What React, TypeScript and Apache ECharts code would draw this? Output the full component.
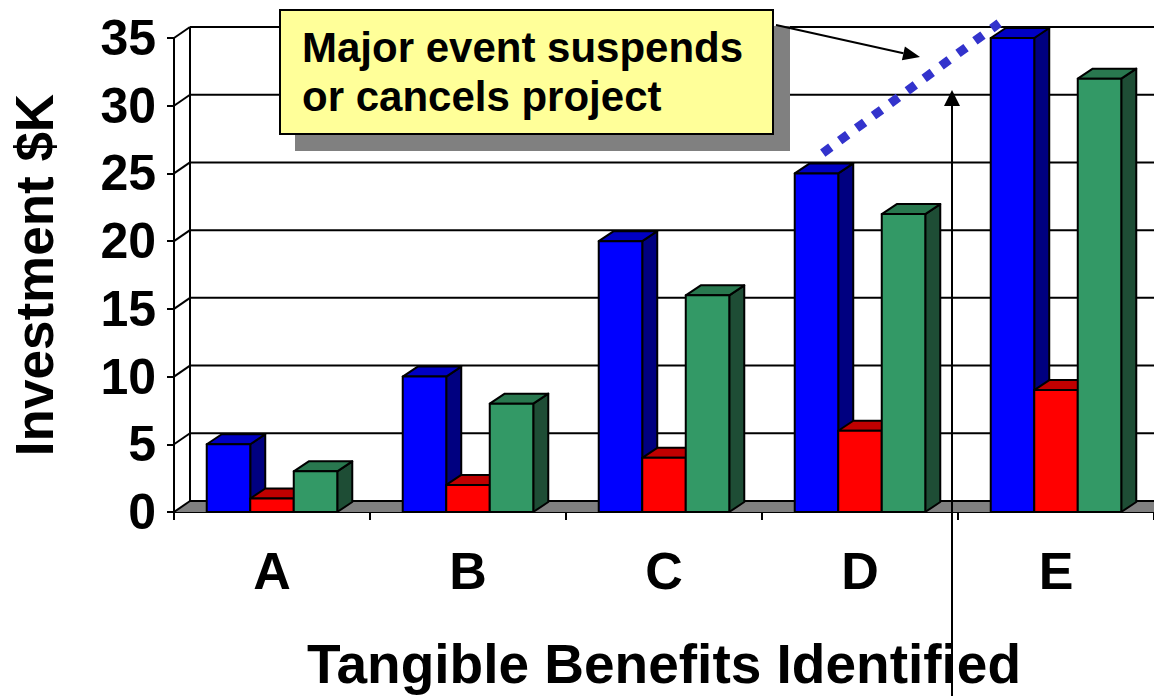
import React, { useEffect, useRef } from "react";
import * as echarts from "echarts";

// Chart data
const categories = ["A", "B", "C", "D", "E"];
const blueValues = [5, 10, 20, 25, 35];
const redValues = [1, 2, 4, 6, 9];
const greenValues = [3, 8, 16, 22, 32];
const yTicks = [0, 5, 10, 15, 20, 25, 30, 35];
// Dotted trend annotation, in [category position, value] units
const trendLine = [
  [3.31, 26.5],
  [4.21, 36.1],
];

const FONT = "'Liberation Sans', Arial, Helvetica, sans-serif";

// Oblique 3D offsets (screen pixels per full depth)
const WALL_DX = 16;
const WALL_DY = 11;
const BAR_DX = 15;
const BAR_DY = 10;

const palettes = [
  { front: "#0000FF", top: "#0000C4", side: "#000080" },
  { front: "#FF0000", top: "#C00000", side: "#800000" },
  { front: "#339966", top: "#29784F", side: "#1E4D35" },
];

function barRenderer(slot: number) {
  const colors = palettes[slot];
  return (params: any, api: any) => {
    const cat = api.value(0);
    const val = api.value(1);
    const base = api.coord([cat, 0]);
    const top = api.coord([cat, val]);
    const band = api.size([1, 0])[0];
    const w = band * 0.222;
    const x0 = base[0] - 1.5 * w + slot * w;
    const x1 = x0 + w;
    const yb = base[1];
    const yt = top[1];
    const edge = { stroke: "#000", lineWidth: 2, lineJoin: "round" };
    return {
      type: "group",
      children: [
        {
          type: "polygon",
          shape: {
            points: [
              [x1, yt],
              [x1 + BAR_DX, yt - BAR_DY],
              [x1 + BAR_DX, yb - BAR_DY],
              [x1, yb],
            ],
          },
          style: { fill: colors.side, ...edge },
        },
        {
          type: "polygon",
          shape: {
            points: [
              [x0, yt],
              [x0 + BAR_DX, yt - BAR_DY],
              [x1 + BAR_DX, yt - BAR_DY],
              [x1, yt],
            ],
          },
          style: { fill: colors.top, ...edge },
        },
        {
          type: "rect",
          shape: { x: x0, y: yt, width: w, height: yb - yt },
          style: { fill: colors.front, ...edge },
        },
      ],
    };
  };
}

// Back wall gridlines, floor and the depth connectors from the front axis
function wallRenderer(params: any, api: any) {
  const v = api.value(1);
  const cs = params.coordSys;
  const left = cs.x;
  const right = cs.x + cs.width;
  const y = api.coord([0, v])[1];
  const line = { stroke: "#000", lineWidth: 2 };
  const children: any[] = [];
  if (v === yTicks[0]) {
    const yMax = api.coord([0, yTicks[yTicks.length - 1]])[1];
    children.push({
      type: "polygon",
      shape: {
        points: [
          [left, y],
          [right + WALL_DX, y],
          [right + WALL_DX, y - WALL_DY],
          [left + WALL_DX, y - WALL_DY],
        ],
      },
      style: { fill: "#808080" },
    });
    children.push({
      type: "line",
      shape: { x1: left + WALL_DX, y1: y - WALL_DY, x2: left + WALL_DX, y2: yMax - WALL_DY },
      style: line,
    });
  }
  children.push({
    type: "line",
    shape: { x1: left, y1: y, x2: left + WALL_DX, y2: y - WALL_DY },
    style: line,
  });
  children.push({
    type: "line",
    shape: { x1: left + WALL_DX, y1: y - WALL_DY, x2: right + WALL_DX, y2: y - WALL_DY },
    style: line,
  });
  return { type: "group", children };
}

function arrow(x1: number, y1: number, x2: number, y2: number, len: number, half: number) {
  const dx = x2 - x1;
  const dy = y2 - y1;
  const d = Math.hypot(dx, dy);
  const ux = dx / d;
  const uy = dy / d;
  const bx = x2 - ux * len;
  const by = y2 - uy * len;
  const nx = -uy;
  const ny = ux;
  return [
    {
      type: "line",
      z: 100,
      shape: { x1, y1, x2: bx, y2: by },
      style: { stroke: "#000", lineWidth: 2 },
    },
    {
      type: "polygon",
      z: 100,
      shape: {
        points: [
          [x2, y2],
          [bx + nx * half, by + ny * half],
          [bx - nx * half, by - ny * half],
        ],
      },
      style: { fill: "#000" },
    },
  ];
}

export default function App() {
  const ref = useRef<HTMLDivElement>(null);

  useEffect(() => {
    if (!ref.current) return;
    const chart = echarts.init(ref.current, undefined, { renderer: "svg" });
    const bold = { fontFamily: FONT, fontWeight: "bold" as const, color: "#000" };

    chart.setOption({
      animation: false,
      backgroundColor: "#fff",
      grid: { left: 174, top: 38, width: 980, height: 479, containLabel: false },
      xAxis: [
        {
          type: "category",
          data: categories,
          axisLine: { show: true, lineStyle: { color: "#000", width: 2 } },
          axisTick: { show: true, length: 8, lineStyle: { color: "#000", width: 2 } },
          axisLabel: { ...bold, fontSize: 52, lineHeight: 52, margin: 33, interval: 0 },
          splitLine: { show: false },
          name: "Tangible Benefits Identified",
          nameLocation: "middle",
          nameGap: 124,
          nameTextStyle: { ...bold, fontSize: 55, lineHeight: 55 },
        },
        { type: "value", min: 0, max: 5, show: false },
      ],
      yAxis: {
        type: "value",
        min: 0,
        max: 35,
        interval: 5,
        axisLine: { show: true, lineStyle: { color: "#000", width: 2 } },
        axisTick: { show: true, length: 7, lineStyle: { color: "#000", width: 2 } },
        axisLabel: { ...bold, fontSize: 50, margin: 18 },
        splitLine: { show: false },
        name: "Investment $K",
        nameLocation: "middle",
        nameRotate: 90,
        nameGap: 113,
        nameTextStyle: { ...bold, fontSize: 53, lineHeight: 53 },
      },
      series: [
        {
          type: "custom",
          name: "wall",
          clip: false,
          silent: true,
          z: 1,
          data: yTicks.map((v) => [0, v]),
          renderItem: wallRenderer,
        },
        {
          type: "custom",
          name: "Series 1",
          clip: false,
          z: 3,
          data: blueValues.map((v, i) => [i, v]),
          renderItem: barRenderer(0),
        },
        {
          type: "custom",
          name: "Series 2",
          clip: false,
          z: 3,
          data: redValues.map((v, i) => [i, v]),
          renderItem: barRenderer(1),
        },
        {
          type: "custom",
          name: "Series 3",
          clip: false,
          z: 3,
          data: greenValues.map((v, i) => [i, v]),
          renderItem: barRenderer(2),
        },
        {
          type: "line",
          name: "trend",
          xAxisIndex: 1,
          clip: false,
          z: 5,
          symbol: "none",
          data: trendLine,
          lineStyle: { color: "#3333CC", width: 9, type: [10, 11], cap: "butt" },
        },
      ],
      graphic: [
        {
          type: "rect",
          z: 90,
          shape: { x: 295, y: 26, width: 495, height: 125 },
          style: { fill: "#808080" },
        },
        {
          type: "rect",
          z: 91,
          shape: { x: 280, y: 10, width: 493, height: 124 },
          style: { fill: "#FFFF99", stroke: "#000", lineWidth: 2 },
        },
        {
          type: "text",
          z: 92,
          x: 302,
          y: 23,
          style: {
            text: "Major event suspends\nor cancels project",
            font: `bold 42px ${FONT}`,
            lineHeight: 49,
            fill: "#000",
            verticalAlign: "top",
            align: "left",
          },
        },
        ...arrow(776, 25, 920, 57, 17, 7),
        ...arrow(952, 696, 952, 90, 16, 8),
      ],
    });

    return () => chart.dispose();
  }, []);

  return (
    <div
      ref={ref}
      style={{ position: "absolute", left: 0, top: 0, width: 1154, height: 696 }}
    />
  );
}
